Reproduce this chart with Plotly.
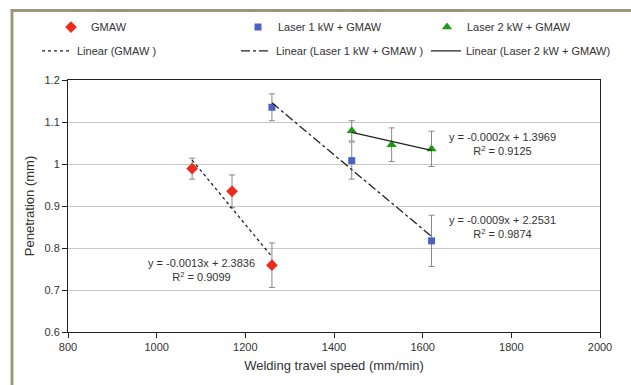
import numpy as np
import plotly.graph_objects as go

# ---- data ----
gmaw_x = [1080, 1170, 1260]
gmaw_y = [0.989, 0.935, 0.759]
gmaw_err = [0.025, 0.039, 0.053]

l1_x = [1260, 1440, 1620]
l1_y = [1.135, 1.008, 0.817]
l1_err = [0.032, 0.044, 0.061]

l2_x = [1440, 1530, 1620]
l2_y = [1.079, 1.046, 1.036]
l2_err = [0.024, 0.040, 0.042]

eq_gmaw = "y = -0.0013x + 2.3836<br>R<sup>2</sup> = 0.9099"
eq_l1 = "y = -0.0009x + 2.2531<br>R<sup>2</sup> = 0.9874"
eq_l2 = "y = -0.0002x + 1.3969<br>R<sup>2</sup> = 0.9125"

x_ticks = [800, 1000, 1200, 1400, 1600, 1800, 2000]
y_ticks = [0.6, 0.7, 0.8, 0.9, 1.0, 1.1, 1.2]

FONT = "Liberation Sans, Arial, sans-serif"
TXT = "#333333"

def fit(x, y):
    k, b = np.polyfit(x, y, 1)
    xs = [min(x), max(x)]
    return xs, [k * v + b for v in xs]

fig = go.Figure()

err_style = dict(type="data", color="#888888", thickness=1, width=3)

fig.add_trace(go.Scatter(x=gmaw_x, y=gmaw_y, mode="markers", name="GMAW",
                         marker=dict(symbol="diamond", size=9, color="#ee2a1c"),
                         error_y=dict(array=gmaw_err, **err_style), legend="legend"))
fig.add_trace(go.Scatter(x=l1_x, y=l1_y, mode="markers", name="Laser 1 kW + GMAW",
                         marker=dict(symbol="square", size=7, color="#5060c4"),
                         error_y=dict(array=l1_err, **err_style), legend="legend2"))
fig.add_trace(go.Scatter(x=l2_x, y=l2_y, mode="markers", name="Laser 2 kW + GMAW",
                         marker=dict(symbol="triangle-up", size=9, color="#1c9a12"),
                         error_y=dict(array=l2_err, **err_style), legend="legend3"))

fx, fy = fit(gmaw_x, gmaw_y)
fig.add_trace(go.Scatter(x=fx, y=fy, mode="lines", name="Linear (GMAW )",
                         line=dict(color="#222222", width=1.3, dash="dot"), legend="legend4"))
fx, fy = fit(l1_x, l1_y)
fig.add_trace(go.Scatter(x=fx, y=fy, mode="lines", name="Linear (Laser 1 kW + GMAW )",
                         line=dict(color="#222222", width=1.3, dash="dashdot"), legend="legend5"))
fx, fy = fit(l2_x, l2_y)
fig.add_trace(go.Scatter(x=fx, y=fy, mode="lines", name="Linear (Laser 2 kW + GMAW)",
                         line=dict(color="#222222", width=1.3), legend="legend6"))

ann_font = dict(family=FONT, size=11, color=TXT)
fig.add_annotation(x=1100, y=0.748, text=eq_gmaw, showarrow=False, font=ann_font)
fig.add_annotation(x=1780, y=0.85, text=eq_l1, showarrow=False, font=ann_font)
fig.add_annotation(x=1780, y=1.048, text=eq_l2, showarrow=False, font=ann_font)

# outer frame
fig.add_shape(type="rect", xref="paper", yref="paper",
              x0=(12 - 68) / 532, x1=1.3, y0=-1.0, y1=(332 - 8) / 254,
              line=dict(color="#9b9878", width=3), layer="below")

def leg(px, py):
    return dict(x=(px - 68) / 532, y=(332 - py) / 254, xanchor="left", yanchor="top",
                orientation="h", font=dict(family=FONT, size=11, color=TXT),
                bgcolor="rgba(0,0,0,0)")

fig.update_layout(
    width=631, height=385,
    margin=dict(l=68, r=31, t=78, b=53),
    paper_bgcolor="white", plot_bgcolor="white",
    font=dict(family=FONT, size=11, color=TXT),
    showlegend=True,
    legend=leg(51, 10), legend2=leg(238, 10), legend3=leg(427, 10),
    legend4=leg(37, 34), legend5=leg(236, 34), legend6=leg(426, 34),
    xaxis=dict(range=[800, 2000], tickvals=x_ticks, ticks="outside", ticklen=5,
               tickcolor="#222", showline=True, linecolor="#222", linewidth=1,
               mirror=True, showgrid=False, zeroline=False,
               title=dict(text="Welding travel speed (mm/min)",
                          font=dict(family=FONT, size=13, color=TXT), standoff=8),
               tickfont=dict(family=FONT, size=11, color=TXT)),
    yaxis=dict(range=[0.6, 1.2], tickvals=y_ticks, ticks="outside", ticklen=5,
               tickcolor="#222", showline=True, linecolor="#222", linewidth=1,
               mirror=True, showgrid=True, gridcolor="#c8c8c8", gridwidth=1,
               zeroline=False,
               title=dict(text="Penetration (mm)",
                          font=dict(family=FONT, size=13, color=TXT), standoff=6),
               tickfont=dict(family=FONT, size=11, color=TXT)),
)

fig.write_html("out.html")
